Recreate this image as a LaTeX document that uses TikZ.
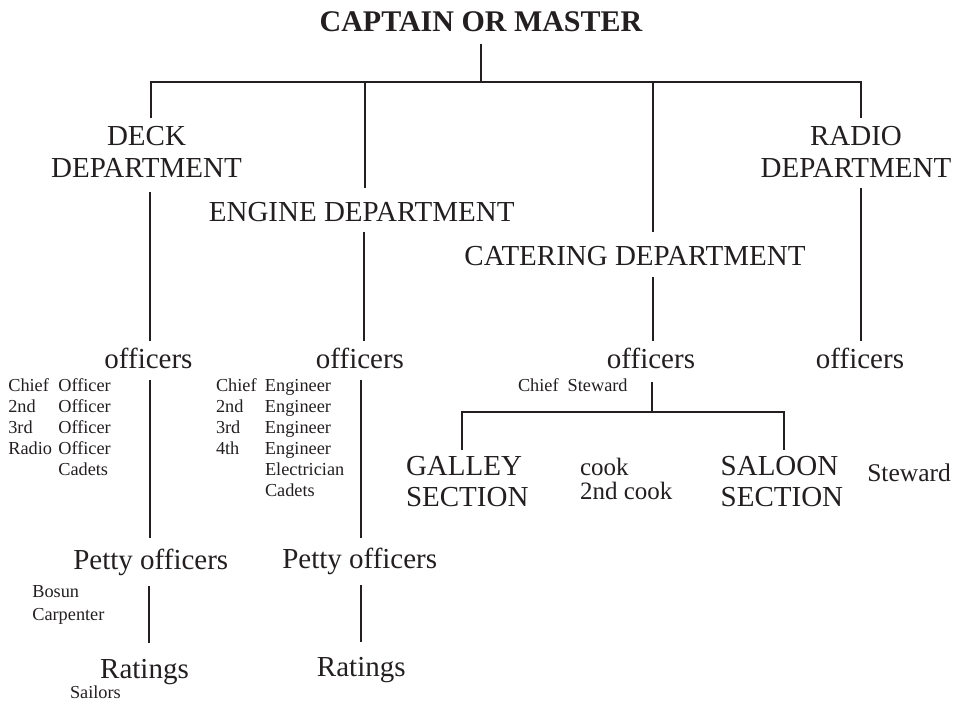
\documentclass[tikz,border=0pt]{standalone}
\usepackage{fontspec}
\setmainfont{Liberation Serif}
\usepackage{array}
\definecolor{ink}{HTML}{231F20}
\begin{document}
\begin{tikzpicture}[x=1pt,y=-1pt,
  every node/.style={inner sep=0pt,outer sep=0pt,text=ink},
  ttl/.style={anchor=base,font=\fontsize{30}{34}\selectfont\bfseries},
  head/.style={anchor=base,font=\fontsize{29}{32}\selectfont},
  sect/.style={anchor=base west,font=\fontsize{29}{31.7}\selectfont},
  lst/.style={anchor=base west,font=\fontsize{18.3}{21}\selectfont},
  lstb/.style={anchor=base west,font=\fontsize{18.3}{22.3}\selectfont},
  mid/.style={anchor=base west,font=\fontsize{25}{23.3}\selectfont},
  conn/.style={draw=ink,line width=2pt}]
\useasboundingbox (0,0) rectangle (962,701);

% title
\node[ttl] (cap) at (481,31.7) {CAPTAIN OR MASTER};
\coordinate (j0) at (481,82);

% departments
\node[head] (deck) at (146.5,146) {\begin{tabular}[t]{@{}c@{}}DECK\\DEPARTMENT\end{tabular}};
\node[head] (engine) at (361.7,221.7) {ENGINE DEPARTMENT};
\node[head] (cater) at (635,265) {CATERING DEPARTMENT};
\node[head] (radio) at (856,146) {\begin{tabular}[t]{@{}c@{}}RADIO\\DEPARTMENT\end{tabular}};

% officers
\node[head] (deckoff) at (148.5,368) {officers};
\node[head] (engoff) at (360,368) {officers};
\node[head] (catoff) at (651,368) {officers};
\node[head] (radoff) at (860,368) {officers};

\node[lst] (decklist) at (8.3,391.7) {\begin{tabular}[t]{@{}p{50pt}@{}l@{}}Chief & Officer\\ 2nd & Officer\\ 3rd & Officer\\ Radio & Officer\\ & Cadets\end{tabular}};
\node[lst] (englist) at (216,391.7) {\begin{tabular}[t]{@{}p{49pt}@{}l@{}}Chief & Engineer\\ 2nd & Engineer\\ 3rd & Engineer\\ 4th & Engineer\\ & Electrician\\ & Cadets\end{tabular}};
\node[lst] (chiefst) at (518,391.7) {Chief\hspace{9pt}Steward};

% catering sections
\coordinate (j1) at (652,412);
\node[sect] (galley) at (406,475) {\begin{tabular}[t]{@{}l@{}}GALLEY\\SECTION\end{tabular}};
\node[mid] (cook) at (580,475) {\begin{tabular}[t]{@{}l@{}}cook\\2nd cook\end{tabular}};
\node[sect] (saloon) at (720.7,475) {\begin{tabular}[t]{@{}l@{}}SALOON\\SECTION\end{tabular}};
\node[anchor=base west,font=\fontsize{25.5}{28}\selectfont] (steward) at (867.3,481.7) {Steward};

% petty officers and ratings
\node[head] (deckpetty) at (150.8,569.3) {Petty officers};
\node[head] (engpetty) at (359.7,568.3) {Petty officers};
\node[lstb] (bosun) at (32.3,597.7) {\begin{tabular}[t]{@{}l@{}}Bosun\\Carpenter\end{tabular}};
\node[head] (deckrat) at (144.5,678.3) {Ratings};
\node[head] (engrat) at (361.3,676.7) {Ratings};
\node[lstb] (sailors) at (70,698.3) {Sailors};

% line ends attached to nodes
\coordinate (dTop) at ([shift={(4.5,-28)}]deck.base);
\coordinate (rTop) at ([shift={(5,-28)}]radio.base);
\coordinate (eTop) at ([shift={(3.3,-33.7)}]engine.base);
\coordinate (cTop) at ([shift={(18,-33)}]cater.base);
\coordinate (gTop) at ([shift={(56,-25)}]galley.base west);
\coordinate (sTop) at ([shift={(63.3,-25)}]saloon.base west);

% connectors
\draw[conn] ([shift={(0,12.3)}]cap.base) -- (j0);
\draw[conn] (dTop) -- (dTop |- j0) -- (rTop |- j0) -- (rTop);
\draw[conn] (eTop |- j0) -- (eTop);
\draw[conn] (cTop |- j0) -- (cTop);

\draw[conn] ([shift={(3.5,46)}]deck.base) -- ([shift={(1.5,-27)}]deckoff.base);
\draw[conn] ([shift={(2.3,10.3)}]engine.base) -- ([shift={(4,-27)}]engoff.base);
\draw[conn] ([shift={(18,12)}]cater.base) -- ([shift={(2,-27)}]catoff.base);
\draw[conn] ([shift={(5,42)}]radio.base) -- ([shift={(1,-27)}]radoff.base);

\draw[conn] ([shift={(1.5,12)}]deckoff.base) -- ([shift={(-0.8,-31.3)}]deckpetty.base);
\draw[conn] ([shift={(1,12)}]engoff.base) -- ([shift={(1.3,-30.3)}]engpetty.base);
\draw[conn] ([shift={(-1.8,16.7)}]deckpetty.base) -- ([shift={(4.5,-35.3)}]deckrat.base);
\draw[conn] ([shift={(1.3,16.7)}]engpetty.base) -- ([shift={(-0.3,-34.7)}]engrat.base);

\draw[conn] ([shift={(1,14)}]catoff.base) -- (j1);
\draw[conn] (gTop) |- (j1) -| (sTop);
\end{tikzpicture}
\end{document}
